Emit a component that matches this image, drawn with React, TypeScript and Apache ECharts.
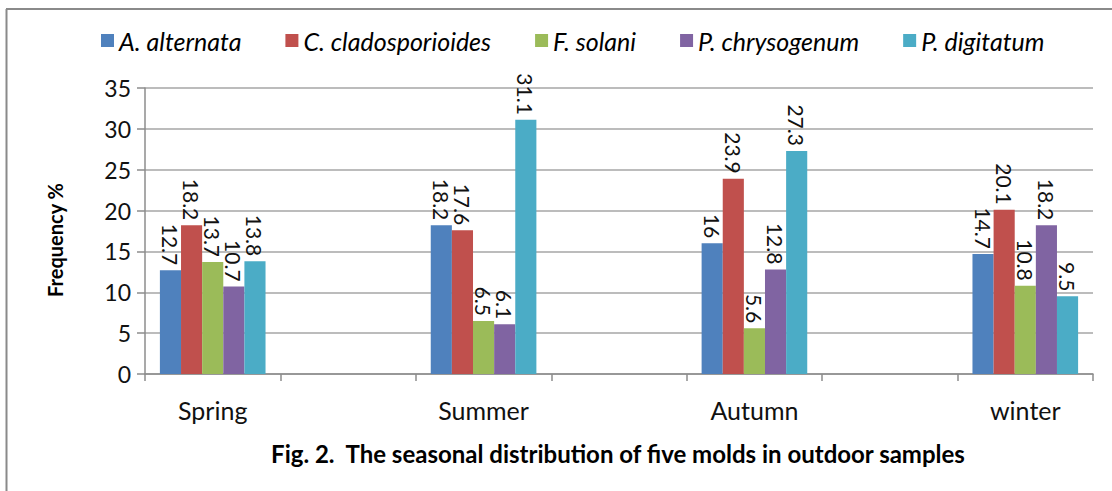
import React, { useEffect, useRef } from "react";
import * as echarts from "echarts";

const seasons = ["Spring", "Summer", "Autumn", "winter"];
const speciesNames = ["A. alternata", "C. cladosporioides", "F. solani", "P. chrysogenum", "P. digitatum"];
const aAlternata = [12.7, 18.2, 16, 14.7];
const cCladosporioides = [18.2, 17.6, 23.9, 20.1];
const fSolani = [13.7, 6.5, 5.6, 10.8];
const pChrysogenum = [10.7, 6.1, 12.8, 18.2];
const pDigitatum = [13.8, 31.1, 27.3, 9.5];
const yTicks = [0, 5, 10, 15, 20, 25, 30, 35];
const colors = ["#4F81BD", "#C0504D", "#9BBB59", "#8064A2", "#4BACC6"];

const FONT = "Lato, 'Open Sans', sans-serif";

// seasons separated by empty spacer categories, as in the reference
const categories: string[] = [];
seasons.forEach((s, i) => {
  if (i > 0) categories.push("");
  categories.push(s);
});
const withGaps = (vals: number[]) => {
  const out: (number | string)[] = [];
  vals.forEach((v, i) => {
    if (i > 0) out.push("-");
    out.push(v);
  });
  return out;
};

export default function App() {
  const ref = useRef<HTMLDivElement>(null);
  useEffect(() => {
    if (!ref.current) return;
    document.body.style.margin = "0";
    const chart = echarts.init(ref.current, null, { renderer: "svg" });
    const allSeries = [aAlternata, cCladosporioides, fSolani, pChrysogenum, pDigitatum];
    chart.setOption({
      animation: false,
      backgroundColor: "#ffffff",
      color: colors,
      grid: { left: 145, right: 19, top: 88, bottom: 117 },
      legend: {
        left: 96,
        top: 23,
        itemWidth: 13,
        itemHeight: 13,
        itemGap: 44,
        icon: "rect",
        textStyle: { fontFamily: FONT, fontStyle: "italic", fontSize: 25, color: "#000" },
        data: speciesNames,
      },
      xAxis: {
        type: "category",
        data: categories,
        axisLine: { lineStyle: { color: "#8c8c8c", width: 1.5 } },
        axisTick: { show: true, interval: 0, length: 7, lineStyle: { color: "#8c8c8c", width: 1.5 } },
        axisLabel: { interval: 0, margin: 23, fontFamily: FONT, fontSize: 25, color: "#111" },
      },
      yAxis: {
        type: "value",
        min: 0,
        max: 35,
        interval: 5,
        axisLine: { show: true, lineStyle: { color: "#8c8c8c", width: 1.5 } },
        axisTick: { show: true, length: 8, lineStyle: { color: "#8c8c8c", width: 1.5 } },
        axisLabel: {
          margin: 14,
          fontFamily: FONT,
          fontSize: 23,
          color: "#111",
          formatter: (v: number) => (yTicks.includes(v) ? String(v) : ""),
        },
        splitLine: { lineStyle: { color: "#a6a6a6", width: 1.5 } },
      },
      series: allSeries.map((vals, i) => ({
        name: speciesNames[i],
        type: "bar",
        data: withGaps(vals),
        barGap: "0%",
        barCategoryGap: "22%",
        label: {
          show: true,
          position: "top",
          rotate: -90,
          align: "right",
          verticalAlign: "middle",
          distance: 5,
          fontFamily: FONT,
          fontSize: 21,
          color: "#111",
        },
      })),
      graphic: [
        {
          type: "line",
          shape: { x1: 6.5, y1: 9, x2: 6.5, y2: 491 },
          style: { stroke: "#8a8a8a", lineWidth: 2 },
        },
        {
          type: "line",
          shape: { x1: 6, y1: 9, x2: 1112, y2: 9 },
          style: { stroke: "#8a8a8a", lineWidth: 2 },
        },
        {
          type: "text",
          x: 55,
          y: 240,
          rotation: Math.PI / 2,
          style: {
            text: "Frequency %",
            fontFamily: FONT,
            fontWeight: "bold",
            fontSize: 20,
            fill: "#000",
            align: "center",
            verticalAlign: "middle",
          },
        },
        {
          type: "text",
          x: 618,
          y: 453,
          style: {
            text: "Fig. 2.  The seasonal distribution of five molds in outdoor samples",
            fontFamily: FONT,
            fontWeight: "bold",
            fontSize: 24,
            fill: "#000",
            align: "center",
            verticalAlign: "middle",
          },
        },
      ],
    });
    return () => chart.dispose();
  }, []);
  return (
    <div
      ref={ref}
      style={{ position: "absolute", left: 0, top: 0, width: 1112, height: 491 }}
    />
  );
}
